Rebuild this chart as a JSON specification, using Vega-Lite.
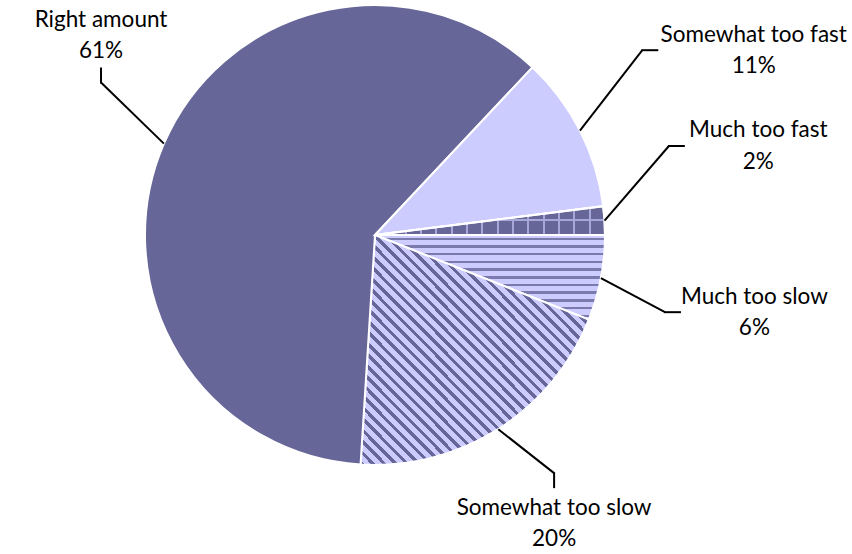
{
  "$schema": "https://vega.github.io/schema/vega-lite/v6.json",
  "width": 852,
  "height": 554,
  "autosize": {"type": "none"},
  "padding": 0,
  "background": "white",
  "config": {"view": {"stroke": null}},
  "data": {
    "values": [
      {"label": "Much too slow", "value": 6},
      {"label": "Somewhat too slow", "value": 20},
      {"label": "Right amount", "value": 61},
      {"label": "Somewhat too fast", "value": 11},
      {"label": "Much too fast", "value": 2}
    ]
  },
  "transform": [
    {"window": [{"op": "row_number", "as": "ord"}]},
    {"stack": "value", "groupby": [], "sort": [{"field": "ord", "order": "ascending"}], "as": ["v0", "v1"]},
    {"calculate": "PI/2 + PI*(datum.v0+datum.v1)/100", "as": "a"},
    {"calculate": "sin(datum.a)", "as": "sa"},
    {"calculate": "cos(datum.a)", "as": "ca"},
    {"calculate": "datum.sa>0.85", "as": "side"},
    {"calculate": "1.08*datum.sa + (datum.sa>0?0.2:-0.2)", "as": "ex"},
    {"calculate": "1.065*datum.ca + (datum.ca>0?(datum.side?0.32:0.24):-0.136)", "as": "ey"},
    {"calculate": "datum.side ? datum.ex+0.065 : datum.ex", "as": "hx"},
    {"calculate": "datum.side ? datum.ey : datum.ey + (datum.ca>0?0.061:-0.061)", "as": "hy"},
    {"calculate": "datum.side ? datum.hx+0.013+length(datum.label)*0.0239 : datum.hx", "as": "lx"},
    {"calculate": "datum.side ? datum.hy+0.0675 : (datum.ca>0 ? datum.hy+0.21 : datum.hy-0.091)", "as": "ny"},
    {"calculate": "datum.ny-0.135", "as": "py"},
    {"calculate": "datum.value+'%'", "as": "pct"}
  ],
  "layer": [
    {
      "mark": {"type": "arc", "outerRadius": 230, "stroke": "white", "strokeWidth": 2},
      "encoding": {
        "x": {"datum": 0, "type": "quantitative", "scale": {"domain": [-1.63043, 2.07391], "nice": false, "zero": false}, "axis": null},
        "y": {"datum": 0, "type": "quantitative", "scale": {"domain": [-1.38696, 1.02174], "nice": false, "zero": false}, "axis": null},
        "theta": {"field": "v0", "type": "quantitative", "scale": {"domain": [0, 100], "range": [1.5707963, 7.8539816]}, "stack": null},
        "theta2": {"field": "v1"},
        "fill": {
          "condition": [
            {"test": "datum.label==='Somewhat too slow'", "value": {"gradient": "linear", "x1": 0, "y1": 1, "x2": 1, "y2": 0, "stops": [
              {"offset": 0, "color": "#666699"}, {"offset": 0.01, "color": "#666699"}, {"offset": 0.01, "color": "#ccccff"}, {"offset": 0.025, "color": "#ccccff"},
              {"offset": 0.025, "color": "#666699"}, {"offset": 0.035, "color": "#666699"}, {"offset": 0.035, "color": "#ccccff"}, {"offset": 0.05, "color": "#ccccff"},
              {"offset": 0.05, "color": "#666699"}, {"offset": 0.06, "color": "#666699"}, {"offset": 0.06, "color": "#ccccff"}, {"offset": 0.075, "color": "#ccccff"},
              {"offset": 0.075, "color": "#666699"}, {"offset": 0.085, "color": "#666699"}, {"offset": 0.085, "color": "#ccccff"}, {"offset": 0.1, "color": "#ccccff"},
              {"offset": 0.1, "color": "#666699"}, {"offset": 0.11, "color": "#666699"}, {"offset": 0.11, "color": "#ccccff"}, {"offset": 0.125, "color": "#ccccff"},
              {"offset": 0.125, "color": "#666699"}, {"offset": 0.135, "color": "#666699"}, {"offset": 0.135, "color": "#ccccff"}, {"offset": 0.15, "color": "#ccccff"},
              {"offset": 0.15, "color": "#666699"}, {"offset": 0.16, "color": "#666699"}, {"offset": 0.16, "color": "#ccccff"}, {"offset": 0.175, "color": "#ccccff"},
              {"offset": 0.175, "color": "#666699"}, {"offset": 0.185, "color": "#666699"}, {"offset": 0.185, "color": "#ccccff"}, {"offset": 0.2, "color": "#ccccff"},
              {"offset": 0.2, "color": "#666699"}, {"offset": 0.21, "color": "#666699"}, {"offset": 0.21, "color": "#ccccff"}, {"offset": 0.225, "color": "#ccccff"},
              {"offset": 0.225, "color": "#666699"}, {"offset": 0.235, "color": "#666699"}, {"offset": 0.235, "color": "#ccccff"}, {"offset": 0.25, "color": "#ccccff"},
              {"offset": 0.25, "color": "#666699"}, {"offset": 0.26, "color": "#666699"}, {"offset": 0.26, "color": "#ccccff"}, {"offset": 0.275, "color": "#ccccff"},
              {"offset": 0.275, "color": "#666699"}, {"offset": 0.285, "color": "#666699"}, {"offset": 0.285, "color": "#ccccff"}, {"offset": 0.3, "color": "#ccccff"},
              {"offset": 0.3, "color": "#666699"}, {"offset": 0.31, "color": "#666699"}, {"offset": 0.31, "color": "#ccccff"}, {"offset": 0.325, "color": "#ccccff"},
              {"offset": 0.325, "color": "#666699"}, {"offset": 0.335, "color": "#666699"}, {"offset": 0.335, "color": "#ccccff"}, {"offset": 0.35, "color": "#ccccff"},
              {"offset": 0.35, "color": "#666699"}, {"offset": 0.36, "color": "#666699"}, {"offset": 0.36, "color": "#ccccff"}, {"offset": 0.375, "color": "#ccccff"},
              {"offset": 0.375, "color": "#666699"}, {"offset": 0.385, "color": "#666699"}, {"offset": 0.385, "color": "#ccccff"}, {"offset": 0.4, "color": "#ccccff"},
              {"offset": 0.4, "color": "#666699"}, {"offset": 0.41, "color": "#666699"}, {"offset": 0.41, "color": "#ccccff"}, {"offset": 0.425, "color": "#ccccff"},
              {"offset": 0.425, "color": "#666699"}, {"offset": 0.435, "color": "#666699"}, {"offset": 0.435, "color": "#ccccff"}, {"offset": 0.45, "color": "#ccccff"},
              {"offset": 0.45, "color": "#666699"}, {"offset": 0.46, "color": "#666699"}, {"offset": 0.46, "color": "#ccccff"}, {"offset": 0.475, "color": "#ccccff"},
              {"offset": 0.475, "color": "#666699"}, {"offset": 0.485, "color": "#666699"}, {"offset": 0.485, "color": "#ccccff"}, {"offset": 0.5, "color": "#ccccff"},
              {"offset": 0.5, "color": "#666699"}, {"offset": 0.51, "color": "#666699"}, {"offset": 0.51, "color": "#ccccff"}, {"offset": 0.525, "color": "#ccccff"},
              {"offset": 0.525, "color": "#666699"}, {"offset": 0.535, "color": "#666699"}, {"offset": 0.535, "color": "#ccccff"}, {"offset": 0.55, "color": "#ccccff"},
              {"offset": 0.55, "color": "#666699"}, {"offset": 0.56, "color": "#666699"}, {"offset": 0.56, "color": "#ccccff"}, {"offset": 0.575, "color": "#ccccff"},
              {"offset": 0.575, "color": "#666699"}, {"offset": 0.585, "color": "#666699"}, {"offset": 0.585, "color": "#ccccff"}, {"offset": 0.6, "color": "#ccccff"},
              {"offset": 0.6, "color": "#666699"}, {"offset": 0.61, "color": "#666699"}, {"offset": 0.61, "color": "#ccccff"}, {"offset": 0.625, "color": "#ccccff"},
              {"offset": 0.625, "color": "#666699"}, {"offset": 0.635, "color": "#666699"}, {"offset": 0.635, "color": "#ccccff"}, {"offset": 0.65, "color": "#ccccff"},
              {"offset": 0.65, "color": "#666699"}, {"offset": 0.66, "color": "#666699"}, {"offset": 0.66, "color": "#ccccff"}, {"offset": 0.675, "color": "#ccccff"},
              {"offset": 0.675, "color": "#666699"}, {"offset": 0.685, "color": "#666699"}, {"offset": 0.685, "color": "#ccccff"}, {"offset": 0.7, "color": "#ccccff"},
              {"offset": 0.7, "color": "#666699"}, {"offset": 0.71, "color": "#666699"}, {"offset": 0.71, "color": "#ccccff"}, {"offset": 0.725, "color": "#ccccff"},
              {"offset": 0.725, "color": "#666699"}, {"offset": 0.735, "color": "#666699"}, {"offset": 0.735, "color": "#ccccff"}, {"offset": 0.75, "color": "#ccccff"},
              {"offset": 0.75, "color": "#666699"}, {"offset": 0.76, "color": "#666699"}, {"offset": 0.76, "color": "#ccccff"}, {"offset": 0.775, "color": "#ccccff"},
              {"offset": 0.775, "color": "#666699"}, {"offset": 0.785, "color": "#666699"}, {"offset": 0.785, "color": "#ccccff"}, {"offset": 0.8, "color": "#ccccff"},
              {"offset": 0.8, "color": "#666699"}, {"offset": 0.81, "color": "#666699"}, {"offset": 0.81, "color": "#ccccff"}, {"offset": 0.825, "color": "#ccccff"},
              {"offset": 0.825, "color": "#666699"}, {"offset": 0.835, "color": "#666699"}, {"offset": 0.835, "color": "#ccccff"}, {"offset": 0.85, "color": "#ccccff"},
              {"offset": 0.85, "color": "#666699"}, {"offset": 0.86, "color": "#666699"}, {"offset": 0.86, "color": "#ccccff"}, {"offset": 0.875, "color": "#ccccff"},
              {"offset": 0.875, "color": "#666699"}, {"offset": 0.885, "color": "#666699"}, {"offset": 0.885, "color": "#ccccff"}, {"offset": 0.9, "color": "#ccccff"},
              {"offset": 0.9, "color": "#666699"}, {"offset": 0.91, "color": "#666699"}, {"offset": 0.91, "color": "#ccccff"}, {"offset": 0.925, "color": "#ccccff"},
              {"offset": 0.925, "color": "#666699"}, {"offset": 0.935, "color": "#666699"}, {"offset": 0.935, "color": "#ccccff"}, {"offset": 0.95, "color": "#ccccff"},
              {"offset": 0.95, "color": "#666699"}, {"offset": 0.96, "color": "#666699"}, {"offset": 0.96, "color": "#ccccff"}, {"offset": 0.975, "color": "#ccccff"},
              {"offset": 0.975, "color": "#666699"}, {"offset": 0.985, "color": "#666699"}, {"offset": 0.985, "color": "#ccccff"}, {"offset": 1, "color": "#ccccff"}
            ]}},
            {"test": "datum.label==='Much too slow'", "value": {"gradient": "linear", "x1": 0, "y1": 0, "x2": 0, "y2": 1, "stops": [
              {"offset": 0, "color": "#ccccff"},
              {"offset": 0.03, "color": "#ccccff"}, {"offset": 0.03, "color": "#7a7aae"}, {"offset": 0.06, "color": "#7a7aae"}, {"offset": 0.06, "color": "#ccccff"},
              {"offset": 0.121, "color": "#ccccff"}, {"offset": 0.121, "color": "#7a7aae"}, {"offset": 0.151, "color": "#7a7aae"}, {"offset": 0.151, "color": "#ccccff"},
              {"offset": 0.212, "color": "#ccccff"}, {"offset": 0.212, "color": "#7a7aae"}, {"offset": 0.242, "color": "#7a7aae"}, {"offset": 0.242, "color": "#ccccff"},
              {"offset": 0.303, "color": "#ccccff"}, {"offset": 0.303, "color": "#7a7aae"}, {"offset": 0.333, "color": "#7a7aae"}, {"offset": 0.333, "color": "#ccccff"},
              {"offset": 0.394, "color": "#ccccff"}, {"offset": 0.394, "color": "#7a7aae"}, {"offset": 0.424, "color": "#7a7aae"}, {"offset": 0.424, "color": "#ccccff"},
              {"offset": 0.485, "color": "#ccccff"}, {"offset": 0.485, "color": "#7a7aae"}, {"offset": 0.515, "color": "#7a7aae"}, {"offset": 0.515, "color": "#ccccff"},
              {"offset": 0.576, "color": "#ccccff"}, {"offset": 0.576, "color": "#7a7aae"}, {"offset": 0.606, "color": "#7a7aae"}, {"offset": 0.606, "color": "#ccccff"},
              {"offset": 0.667, "color": "#ccccff"}, {"offset": 0.667, "color": "#7a7aae"}, {"offset": 0.697, "color": "#7a7aae"}, {"offset": 0.697, "color": "#ccccff"},
              {"offset": 0.757, "color": "#ccccff"}, {"offset": 0.757, "color": "#7a7aae"}, {"offset": 0.787, "color": "#7a7aae"}, {"offset": 0.787, "color": "#ccccff"},
              {"offset": 0.848, "color": "#ccccff"}, {"offset": 0.848, "color": "#7a7aae"}, {"offset": 0.878, "color": "#7a7aae"}, {"offset": 0.878, "color": "#ccccff"},
              {"offset": 0.939, "color": "#ccccff"}, {"offset": 0.939, "color": "#7a7aae"}, {"offset": 0.969, "color": "#7a7aae"}, {"offset": 0.969, "color": "#ccccff"},
              {"offset": 1, "color": "#ccccff"}
            ]}},
            {"test": "datum.label==='Much too fast'", "value": {"gradient": "linear", "x1": 0, "y1": 0, "x2": 1, "y2": 0, "stops": [
              {"offset": 0, "color": "#666699"},
              {"offset": 0.0627, "color": "#666699"}, {"offset": 0.0627, "color": "#a8a8d8"}, {"offset": 0.0717, "color": "#a8a8d8"}, {"offset": 0.0717, "color": "#666699"},
              {"offset": 0.1293, "color": "#666699"}, {"offset": 0.1293, "color": "#a8a8d8"}, {"offset": 0.1383, "color": "#a8a8d8"}, {"offset": 0.1383, "color": "#666699"},
              {"offset": 0.196, "color": "#666699"}, {"offset": 0.196, "color": "#a8a8d8"}, {"offset": 0.205, "color": "#a8a8d8"}, {"offset": 0.205, "color": "#666699"},
              {"offset": 0.2627, "color": "#666699"}, {"offset": 0.2627, "color": "#a8a8d8"}, {"offset": 0.2717, "color": "#a8a8d8"}, {"offset": 0.2717, "color": "#666699"},
              {"offset": 0.3293, "color": "#666699"}, {"offset": 0.3293, "color": "#a8a8d8"}, {"offset": 0.3383, "color": "#a8a8d8"}, {"offset": 0.3383, "color": "#666699"},
              {"offset": 0.396, "color": "#666699"}, {"offset": 0.396, "color": "#a8a8d8"}, {"offset": 0.405, "color": "#a8a8d8"}, {"offset": 0.405, "color": "#666699"},
              {"offset": 0.4627, "color": "#666699"}, {"offset": 0.4627, "color": "#a8a8d8"}, {"offset": 0.4717, "color": "#a8a8d8"}, {"offset": 0.4717, "color": "#666699"},
              {"offset": 0.5293, "color": "#666699"}, {"offset": 0.5293, "color": "#a8a8d8"}, {"offset": 0.5383, "color": "#a8a8d8"}, {"offset": 0.5383, "color": "#666699"},
              {"offset": 0.596, "color": "#666699"}, {"offset": 0.596, "color": "#a8a8d8"}, {"offset": 0.605, "color": "#a8a8d8"}, {"offset": 0.605, "color": "#666699"},
              {"offset": 0.6627, "color": "#666699"}, {"offset": 0.6627, "color": "#a8a8d8"}, {"offset": 0.6717, "color": "#a8a8d8"}, {"offset": 0.6717, "color": "#666699"},
              {"offset": 0.7293, "color": "#666699"}, {"offset": 0.7293, "color": "#a8a8d8"}, {"offset": 0.7383, "color": "#a8a8d8"}, {"offset": 0.7383, "color": "#666699"},
              {"offset": 0.796, "color": "#666699"}, {"offset": 0.796, "color": "#a8a8d8"}, {"offset": 0.805, "color": "#a8a8d8"}, {"offset": 0.805, "color": "#666699"},
              {"offset": 0.8627, "color": "#666699"}, {"offset": 0.8627, "color": "#a8a8d8"}, {"offset": 0.8717, "color": "#a8a8d8"}, {"offset": 0.8717, "color": "#666699"},
              {"offset": 0.9293, "color": "#666699"}, {"offset": 0.9293, "color": "#a8a8d8"}, {"offset": 0.9383, "color": "#a8a8d8"}, {"offset": 0.9383, "color": "#666699"},
              {"offset": 1, "color": "#666699"}
            ]}},
            {"test": "datum.label==='Somewhat too fast'", "value": "#ccccff"}
          ],
          "value": "#666699"
        }
      }
    },
    {
      "transform": [{"filter": "datum.label==='Much too fast'"}],
      "mark": {"type": "arc", "outerRadius": 230, "stroke": "white", "strokeWidth": 2},
      "encoding": {
        "x": {"datum": 0, "type": "quantitative", "scale": {"domain": [-1.63043, 2.07391], "nice": false, "zero": false}, "axis": null},
        "y": {"datum": 0, "type": "quantitative", "scale": {"domain": [-1.38696, 1.02174], "nice": false, "zero": false}, "axis": null},
        "theta": {"field": "v0", "type": "quantitative", "scale": {"domain": [0, 100], "range": [1.5707963, 7.8539816]}, "stack": null},
        "theta2": {"field": "v1"},
        "fill": {"value": {"gradient": "linear", "x1": 0, "y1": 0, "x2": 0, "y2": 1, "stops": [
          {"offset": 0, "color": "rgba(0,0,0,0)"}, {"offset": 0.45, "color": "rgba(0,0,0,0)"},
          {"offset": 0.45, "color": "#a8a8d8"}, {"offset": 0.52, "color": "#a8a8d8"},
          {"offset": 0.52, "color": "rgba(0,0,0,0)"}, {"offset": 1, "color": "rgba(0,0,0,0)"}
        ]}}
      }
    },
    {
      "mark": {"type": "rule", "strokeWidth": 2, "color": "black"},
      "encoding": {
        "x": {"field": "sa", "type": "quantitative", "scale": {"domain": [-1.63043, 2.07391], "nice": false, "zero": false}, "axis": null},
        "y": {"field": "ca", "type": "quantitative", "scale": {"domain": [-1.38696, 1.02174], "nice": false, "zero": false}, "axis": null},
        "x2": {"field": "ex"},
        "y2": {"field": "ey"}
      }
    },
    {
      "mark": {"type": "rule", "strokeWidth": 2, "color": "black", "strokeCap": "square"},
      "encoding": {
        "x": {"field": "ex", "type": "quantitative", "scale": {"domain": [-1.63043, 2.07391], "nice": false, "zero": false}, "axis": null},
        "y": {"field": "ey", "type": "quantitative", "scale": {"domain": [-1.38696, 1.02174], "nice": false, "zero": false}, "axis": null},
        "x2": {"field": "hx"},
        "y2": {"field": "hy"}
      }
    },
    {
      "mark": {"type": "text", "font": "Lato", "fontSize": 22.5, "align": "center", "baseline": "middle", "color": "black"},
      "encoding": {
        "x": {"field": "lx", "type": "quantitative", "scale": {"domain": [-1.63043, 2.07391], "nice": false, "zero": false}, "axis": null},
        "y": {"field": "ny", "type": "quantitative", "scale": {"domain": [-1.38696, 1.02174], "nice": false, "zero": false}, "axis": null},
        "text": {"field": "label"}
      }
    },
    {
      "mark": {"type": "text", "font": "Lato", "fontSize": 22.5, "align": "center", "baseline": "middle", "color": "black"},
      "encoding": {
        "x": {"field": "lx", "type": "quantitative", "scale": {"domain": [-1.63043, 2.07391], "nice": false, "zero": false}, "axis": null},
        "y": {"field": "py", "type": "quantitative", "scale": {"domain": [-1.38696, 1.02174], "nice": false, "zero": false}, "axis": null},
        "text": {"field": "pct"}
      }
    }
  ]
}
